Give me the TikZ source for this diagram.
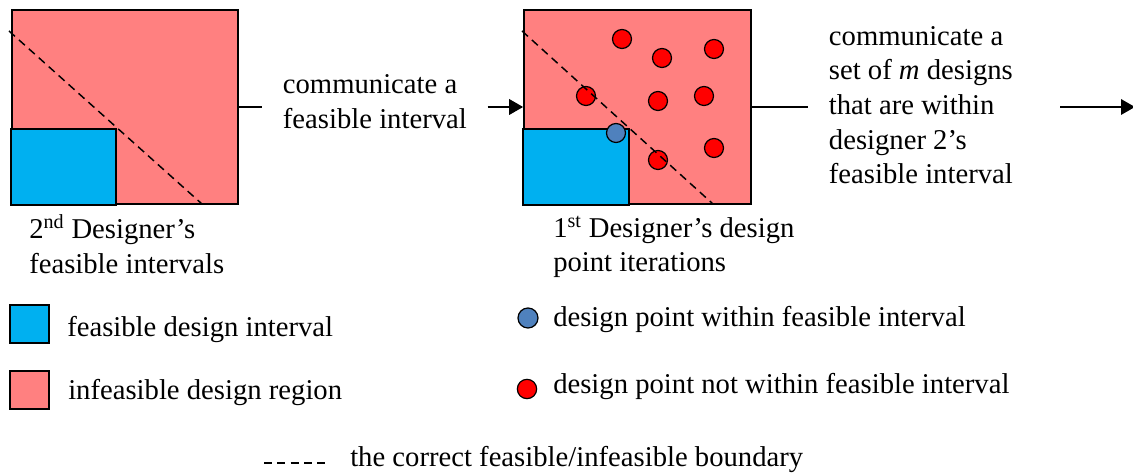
\documentclass[tikz,border=0pt]{standalone}
\usepackage{fontspec}
\setmainfont{Liberation Serif}
\usetikzlibrary{arrows.meta,positioning}
\definecolor{infeasred}{RGB}{255,128,128}
\definecolor{feascyan}{RGB}{0,176,240}
\definecolor{hitblue}{RGB}{79,129,189}
\definecolor{missred}{RGB}{255,0,0}

\tikzset{
  panel/.style={draw, line width=1.5pt, fill=infeasred, minimum width=170pt, minimum height=145.5pt, inner sep=0pt},
  feasible/.style={draw, line width=1.5pt, fill=feascyan},
  keybox/.style={draw, line width=1.5pt, minimum width=29pt, minimum height=28.5pt, inner sep=0pt},
  boundary/.style={line width=1.1pt, dash pattern=on 6pt off 4pt},
  hit/.style={circle, draw, line width=0.9pt, fill=hitblue, minimum size=14.25pt, inner sep=0pt},
  miss/.style={circle, draw, line width=0.9pt, fill=missred, minimum size=14.25pt, inner sep=0pt},
  msg/.style={align=flush left, inner ysep=0pt, inner xsep=15.5pt},
  link/.style={line width=1.8pt},
  flow/.style={line width=1.8pt, -{Triangle[length=10.5pt,width=11.5pt]}},
  caption/.style={align=left, inner sep=0pt},
}

\begin{document}
\begin{tikzpicture}[x=0.75pt, y=-0.75pt, font=\fontsize{21.5}{26}\selectfont]
  \useasboundingbox (0,0) rectangle (1133,473);

  % Designer 2: feasible intervals
  \node[panel] (ivl) at (125,107) {};
  \draw[feasible] (ivl.south west) rectangle ++(79pt,57pt);
  \draw[boundary] (9,31) -- (202,204);
  \node[caption, anchor=west] (ivlcap) at (29,244) {2\textsuperscript{nd} Designer's\\feasible intervals};

  % Designer 1: design point iterations
  \node[panel] (pts) at (637.5,107) {};
  \draw[feasible] (pts.south west) rectangle ++(79.5pt,57pt);
  \foreach \x/\y [count=\i] in {622/39, 662/58, 714/49, 586/96, 658/101, 704/96, 658/160, 714/148}
    \node[miss] (miss\i) at (\x,\y) {};
  \node[hit] (hit1) at (616,133) {};
  \draw[boundary] (522,31) -- (713,204);
  \node[caption, anchor=west] (ptscap) at (553,247) {1\textsuperscript{st} Designer's design\\point iterations};

  % Messages passed between designers
  \node[msg, anchor=west] (msg1) at (262,101.5) {communicate a\\feasible interval};
  \node[msg, text width=157.7pt, anchor=west] (msg2) at (808,105)
    {communicate a\\set of \textit{m} designs\\that are within\\designer 2's\\feasible interval};
  \coordinate (out) at (1135,107);

  \draw[link] (ivl.east) -- (ivl.east -| msg1.west);
  \draw[flow] (msg1.east |- ivl.east) -- (pts.west);
  \draw[link] (pts.east) -- (pts.east -| msg2.west);
  \draw[flow] (msg2.east |- pts.east) -- (out);

  % Legend
  \node[keybox, fill=feascyan] (keyivl) at (29.5,324) {};
  \node[anchor=base west, inner sep=0pt] (keyivltxt) at (67,337) {feasible design interval};
  \node[keybox, fill=infeasred] (keyreg) at (29.5,390) {};
  \node[anchor=base west, inner sep=0pt] (keyregtxt) at (68,400) {infeasible design region};
  \node[hit, minimum size=15pt] (keyhit) at (528,318) {};
  \node[anchor=base west, inner sep=0pt] (keyhittxt) at (553,327) {design point within feasible interval};
  \node[miss, minimum size=14.5pt] (keymiss) at (527,389) {};
  \node[anchor=base west, inner sep=0pt] (keymisstxt) at (553,394) {design point not within feasible interval};
  \draw[boundary] (264,463) -- (326,463);
  \node[anchor=base west, inner sep=0pt] (keybnd) at (350,467) {the correct feasible/infeasible boundary};
\end{tikzpicture}
\end{document}
